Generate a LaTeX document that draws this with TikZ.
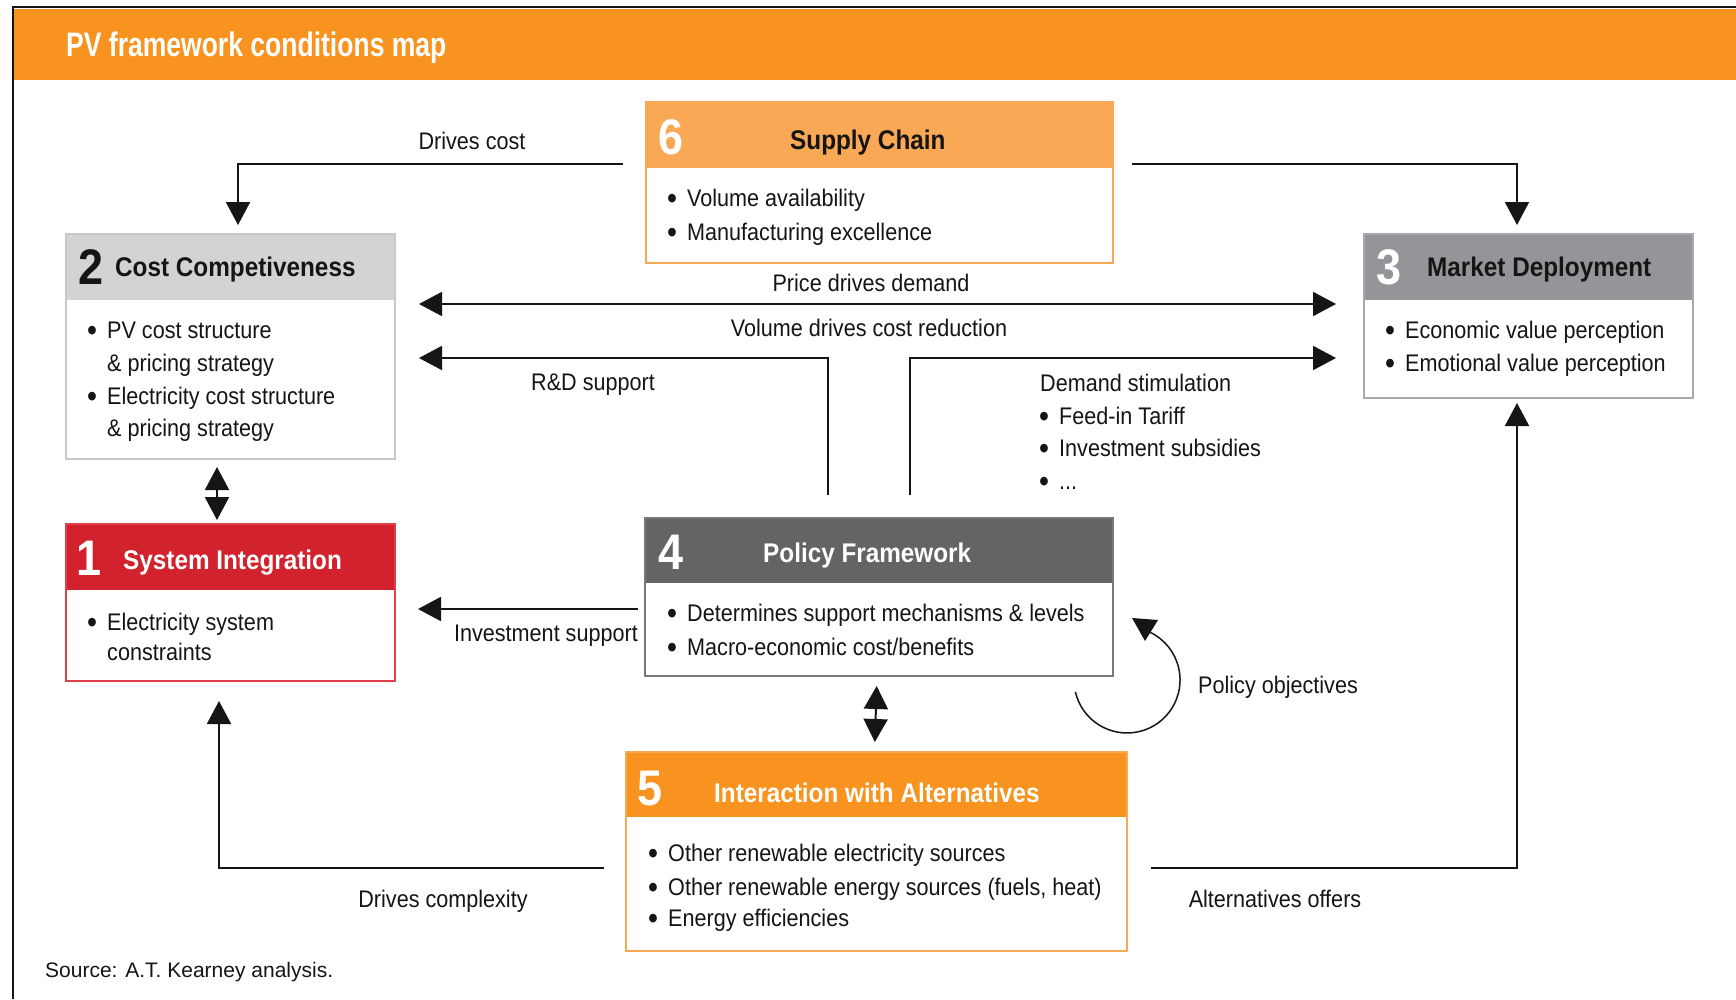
\documentclass[tikz,border=0pt]{standalone}
\usepackage{fontspec}
\setmainfont{Liberation Sans}
\newfontfamily\nf[FakeStretch=0.9]{Liberation Sans}
\newfontfamily\tf[FakeStretch=0.78]{Liberation Sans}
\usetikzlibrary{arrows.meta,calc}
\definecolor{orng}{HTML}{F7931E}
\definecolor{peach}{HTML}{F9A856}
\definecolor{lgray}{HTML}{D1D3D4}
\definecolor{lgrayb}{HTML}{C7C8CA}
\definecolor{mgray}{HTML}{939598}
\definecolor{mgrayb}{HTML}{A7A9AC}
\definecolor{dgray}{HTML}{636466}
\definecolor{dgrayb}{HTML}{77787B}
\definecolor{redh}{HTML}{D2222D}
\definecolor{redb}{HTML}{E0404A}
\definecolor{ink}{HTML}{151515}
\tikzset{
  boxn/.style={fill=white, inner sep=0pt, outer sep=0pt},
  txt/.style={font=\nf\fontsize{24}{28}\selectfont, text=ink, inner sep=0pt, text height=17.2pt, text depth=0pt, anchor=west},
  dot/.style={font=\nf\bfseries\fontsize{30}{34}\selectfont, text=ink, inner sep=0pt, text height=21.5pt, text depth=0pt, anchor=center},
  lbl/.style={txt, anchor=center},
  hdr/.style={font=\nf\bfseries\fontsize{27}{30}\selectfont, inner sep=0pt, text height=19.3pt, text depth=0pt, anchor=west},
  num/.style={font=\nf\bfseries\fontsize{50}{56}\selectfont, inner sep=0pt, text height=36pt, text depth=0pt, anchor=west},
  arr/.style={line width=2pt, draw=ink, -{Triangle[length=23pt,width=24pt]}},
  dbl/.style={line width=2pt, draw=ink, {Triangle[length=23pt,width=24pt]}-{Triangle[length=23pt,width=24pt]}},
}
\newcommand{\bitem}[4]{%
  \node[txt] (#1) at (#2,#3) {#4};
  \node[dot] (#1b) at (#2-15,#3) {•};}
% box: name, x1, y1, x2, y2, header bottom, header colour, border colour
\newcommand{\mkbox}[8]{%
  \node[boxn, minimum width=#4-#2, minimum height=#5-#3] (#1) at ({(#2+#4)/2},{(#3+#5)/2}) {};
  \fill[#7] (#1.north west) rectangle (#1.east |- 0,#6);
  \draw[#8, line width=2pt] (#1.north west) rectangle (#1.south east);}
\begin{document}
\begin{tikzpicture}[x=1pt,y=-1pt]
\useasboundingbox (0,0) rectangle (1736,999);
\fill[white] (0,0) rectangle (1736,999);
% title band and frame
\fill[orng] (13,9) rectangle (1736,80);
\draw[line width=2pt, draw=ink] (13,999) -- (13,7) -- (1736,7);
\node[font=\tf\bfseries\fontsize{34}{40}\selectfont, text=white, anchor=west, inner sep=0pt, text height=24.4pt, text depth=0pt] (title) at (66,44) {PV framework conditions map};

% boxes
\mkbox{b6}{646}{102}{1113}{263}{168}{peach}{peach}
\mkbox{b2}{66}{234}{395}{459}{300}{lgray}{lgrayb}
\mkbox{b3}{1364}{234}{1693}{398}{300}{mgray}{mgrayb}
\mkbox{b1}{66}{524}{395}{681}{590}{redh}{redb}
\mkbox{b4}{645}{518}{1113}{676}{583}{dgray}{dgrayb}
\mkbox{b5}{626}{752}{1127}{951}{817}{orng}{peach}

% headers
\node[num, text=white] (n6) at (658,136) {6};
\node[hdr, text=ink] (h6) at (790,140) {Supply Chain};
\node[num, text=ink] (n2) at (78,266) {2};
\node[hdr, text=ink] (h2) at (115,267) {Cost Competiveness};
\node[num, text=white] (n3) at (1376,266) {3};
\node[hdr, text=ink] (h3) at (1427,267) {Market Deployment};
\node[num, text=white] (n1) at (76,557) {1};
\node[hdr, text=white] (h1) at (123,560) {System Integration};
\node[num, text=white] (n4) at (658,551) {4};
\node[hdr, text=white] (h4) at (763,553) {Policy Framework};
\node[num, text=white] (n5) at (637,787) {5};
\node[hdr, text=white] (h5) at (714,793) {Interaction with Alternatives};

% bullet texts
\bitem{s1}{687}{198}{Volume availability}
\bitem{s2}{687}{232}{Manufacturing excellence}
\bitem{c1}{107}{330}{PV cost structure}
\node[txt] (c1b2) at (107,363) {\& pricing strategy};
\bitem{c2}{107}{396}{Electricity cost structure}
\node[txt] (c2b2) at (107,428) {\& pricing strategy};
\bitem{m1}{1405}{330}{Economic value perception}
\bitem{m2}{1405}{363}{Emotional value perception}
\bitem{i1}{107}{622}{Electricity system}
\node[txt] (i1b2) at (107,652) {constraints};
\bitem{p1}{687}{613}{Determines support mechanisms \& levels}
\bitem{p2}{687}{647}{Macro-economic cost/benefits}
\bitem{a1}{668}{853}{Other renewable electricity sources}
\bitem{a2}{668}{887}{Other renewable energy sources (fuels, heat)}
\bitem{a3}{668}{918}{Energy efficiencies}
\node[txt] (dst) at (1040,383) {Demand stimulation};
\bitem{d1}{1059}{416}{Feed-in Tariff}
\bitem{d2}{1059}{448}{Investment subsidies}
\bitem{d3}{1059}{481}{...}

% connector labels
\node[lbl] (ldc) at (472,141) {Drives cost};
\node[lbl] (lpd) at (871,283) {Price drives demand};
\node[lbl] (lvd) at (869,328) {Volume drives cost reduction};
\node[lbl] (lrd) at (593,382) {R\&D support};
\node[txt, anchor=east] (lis) at (638,633) {Investment support};
\node[txt] (lpo) at (1198,685) {Policy objectives};
\node[lbl] (ldx) at (443,899) {Drives complexity};
\node[lbl] (lao) at (1275,899) {Alternatives offers};

% connector end coordinates
\coordinate (dcs) at (623,164);
\coordinate (scr) at (1132,164);
\coordinate (pdl) at (419,304);
\coordinate (pdr) at (1336,304);
\coordinate (rds) at (828,495);
\coordinate (rde) at (419,358);
\coordinate (dss) at (910,495);
\coordinate (dse) at (1336,358);
\coordinate (ivs) at (638,609);
\coordinate (ive) at (418,609);
\coordinate (cxs) at (604,868);
\coordinate (aos) at (1151,868);

% connectors
\draw[arr, shorten >=9pt] (dcs) -| ([xshift=7.5pt]b2.north);
\draw[arr, shorten >=9pt] (scr) -| ([xshift=-11.5pt]b3.north);
\draw[dbl] (pdl) -- (pdr);
\draw[arr] (rds) |- (rde);
\draw[arr] (dss) |- (dse);
\draw[arr] (ivs) -- (ive);
\draw[dbl, shorten <=8pt, shorten >=4pt] ([xshift=-13.5pt]b2.south) -- ([xshift=-13.5pt]b1.north);
\draw[dbl, shorten <=10pt, shorten >=10pt] ([xshift=-2pt]b4.south) -- ([xshift=-2pt]b5.north);
\draw[arr, shorten >=20pt] (cxs) -| ([xshift=-11.5pt]b1.south);
\draw[arr, shorten >=5pt] (aos) -| ([xshift=-11.5pt]b3.south);

% policy objectives loop
\draw[line width=1.5pt, draw=ink] (1075.4,691.9) arc[start angle=167, end angle=-64, radius=53];
\fill[ink] (1132,618) -- (1158,620) -- (1145,641) -- cycle;

% source
\node[font=\fontsize{21}{24}\selectfont, text=ink, anchor=west, inner sep=0pt, text height=15pt, text depth=0pt] (src) at (45,970) {Source: A.T. Kearney analysis.};
\end{tikzpicture}
\end{document}
